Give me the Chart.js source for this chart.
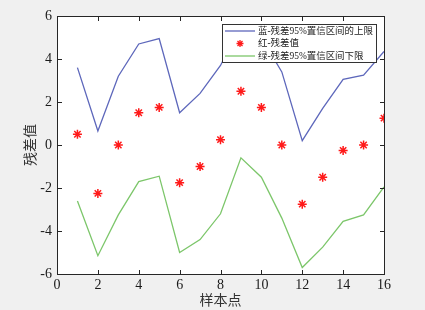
<!DOCTYPE html>
<html>
<head>
<meta charset="utf-8">
<script src="https://cdn.jsdelivr.net/npm/chart.js@4.4.0/dist/chart.umd.min.js"></script>
<style>
  html, body { margin: 0; padding: 0; background: #f0f0f0; }
</style>
</head>
<body>
<canvas id="myChart" width="425" height="310"></canvas>
<script>
const samples = [1, 2, 3, 4, 5, 6, 7, 8, 9, 10, 11, 12, 13, 14, 15, 16];
const upperBound = [3.6, 0.65, 3.2, 4.7, 4.95, 1.5, 2.4, 3.7, 5.6, 5.0, 3.4, 0.2, 1.7, 3.05, 3.25, 4.35];
const residuals = [0.5, -2.25, 0, 1.5, 1.75, -1.75, -1.0, 0.25, 2.5, 1.75, 0, -2.75, -1.5, -0.25, 0, 1.25];
const lowerBound = [-2.6, -5.15, -3.25, -1.7, -1.45, -5.0, -4.4, -3.2, -0.6, -1.5, -3.4, -5.7, -4.75, -3.55, -3.25, -1.95];
const seriesLabels = ['蓝-残差95%置信区间的上限', '红-残差值', '绿-残差95%置信区间下限'];

const FONT = '"Liberation Serif", "Times New Roman", "Noto Sans CJK SC", serif';
const AXIS = '#262626';

const toPoints = (ys) => samples.map((x, i) => ({ x, y: ys[i] }));

const drawFrame = (chart) => {
  const { ctx, chartArea: a, scales } = chart;
  const L = Math.round(a.left), T = Math.round(a.top), R = Math.round(a.right), B = Math.round(a.bottom);
  ctx.save();
  ctx.fillStyle = AXIS;
  ctx.fillRect(L, T, R - L + 1, 1);
  ctx.fillRect(L, B, R - L + 1, 1);
  ctx.fillRect(L, T, 1, B - T + 1);
  ctx.fillRect(R, T, 1, B - T + 1);
  const len = 4;
  scales.x.ticks.forEach((t) => {
    const px = Math.round(scales.x.getPixelForValue(t.value));
    ctx.fillRect(px, B - len, 1, len);
    ctx.fillRect(px, T + 1, 1, len);
  });
  scales.y.ticks.forEach((t) => {
    const py = Math.round(scales.y.getPixelForValue(t.value));
    ctx.fillRect(L + 1, py, len, 1);
    ctx.fillRect(R - len, py, len, 1);
  });
  ctx.restore();
};

const drawLegend = (chart) => {
  const { ctx, chartArea: a } = chart;
  const sets = chart.data.datasets;
  const w = 154, h = 38;
  const x0 = Math.round(a.right) - 8 - w, y0 = Math.round(a.top) + 8;
  ctx.save();
  let size = 11;
  ctx.font = size + 'px ' + FONT;
  const widest = Math.max(...sets.map((ds) => ctx.measureText(ds.label).width));
  if (widest > 115) size = size * 115 / widest;
  ctx.font = size.toFixed(2) + 'px ' + FONT;
  ctx.fillStyle = '#ffffff';
  ctx.fillRect(x0, y0, w, h);
  ctx.strokeStyle = '#333333';
  ctx.lineWidth = 1;
  ctx.strokeRect(x0 + 0.5, y0 + 0.5, w, h);
  sets.forEach((ds, i) => {
    const cy = y0 + 7 + i * 12.5;
    ctx.strokeStyle = ds.borderColor;
    ctx.lineWidth = 1.3;
    ctx.beginPath();
    if (ds.showLine === false) {
      const cx = x0 + 18;
      ctx.moveTo(cx - 3.5, cy); ctx.lineTo(cx + 3.5, cy);
      ctx.moveTo(cx, cy - 3.5); ctx.lineTo(cx, cy + 3.5);
      ctx.moveTo(cx - 2.5, cy - 2.5); ctx.lineTo(cx + 2.5, cy + 2.5);
      ctx.moveTo(cx - 2.5, cy + 2.5); ctx.lineTo(cx + 2.5, cy - 2.5);
    } else {
      ctx.moveTo(x0 + 3, cy); ctx.lineTo(x0 + 33, cy);
    }
    ctx.stroke();
    ctx.fillStyle = '#1a1a1a';
    ctx.textBaseline = 'middle';
    ctx.fillText(ds.label, x0 + 36, cy + 0.5);
  });
  ctx.restore();
};

// white plot area, MATLAB style box with inward ticks, legend inside the plot
const framePlugin = {
  id: 'matlabFrame',
  beforeDraw(chart) {
    const { ctx, chartArea: a } = chart;
    ctx.save();
    ctx.fillStyle = '#ffffff';
    ctx.fillRect(a.left, a.top, a.right - a.left, a.bottom - a.top);
    ctx.restore();
  },
  afterDatasetsDraw(chart) {
    drawFrame(chart);
  },
  afterDraw(chart) {
    drawFrame(chart);
    drawLegend(chart);
  },
};

const sideAxis = (position) => ({
  type: 'linear',
  position,
  min: position === 'top' ? 0 : -6,
  max: position === 'top' ? 16 : 6,
  ticks: { display: false },
  grid: { display: false, drawTicks: false },
  border: { display: true, color: AXIS, width: 1 },
  afterFit: (s) => { if (position === 'top') s.height = 0; else s.width = 0; },
});

new Chart(document.getElementById('myChart'), {
  type: 'line',
  data: {
    datasets: [
      {
        label: seriesLabels[0],
        data: toPoints(upperBound),
        borderColor: '#5d67bb',
        borderWidth: 1.3,
        pointRadius: 0,
      },
      {
        label: seriesLabels[1],
        data: toPoints(residuals),
        showLine: false,
        borderColor: '#ff1a1a',
        pointStyle: 'star',
        pointRadius: 4.5,
        pointBorderWidth: 1.5,
      },
      {
        label: seriesLabels[2],
        data: toPoints(lowerBound),
        borderColor: '#7cc66a',
        borderWidth: 1.3,
        pointRadius: 0,
      },
    ],
  },
  options: {
    responsive: false,
    animation: false,
    layout: { padding: { top: 16, right: 41, left: 0, bottom: 0 } },
    plugins: { legend: { display: false }, tooltip: { enabled: false } },
    scales: {
      x: {
        type: 'linear',
        min: 0,
        max: 16,
        ticks: { stepSize: 2, color: '#1a1a1a', font: { family: FONT, size: 14 }, padding: 3, maxRotation: 0 },
        grid: { display: false, drawTicks: false },
        border: { display: true, color: AXIS, width: 1 },
        title: { display: true, text: '样本点', color: '#333333', font: { family: FONT, size: 14 }, padding: { top: 0, bottom: 0 } },
        afterFit: (s) => { s.height = 36; },
      },
      y: {
        min: -6,
        max: 6,
        ticks: { stepSize: 2, color: '#1a1a1a', font: { family: FONT, size: 14 }, padding: 5 },
        grid: { display: false, drawTicks: false },
        border: { display: true, color: AXIS, width: 1 },
        title: { display: true, text: '残差值', color: '#333333', font: { family: FONT, size: 14 }, padding: { top: 23, bottom: 0 } },
        afterFit: (s) => { s.width = 57; },
      },
      x2: sideAxis('top'),
      y2: sideAxis('right'),
    },
  },
  plugins: [framePlugin],
});
</script>
</body>
</html>
